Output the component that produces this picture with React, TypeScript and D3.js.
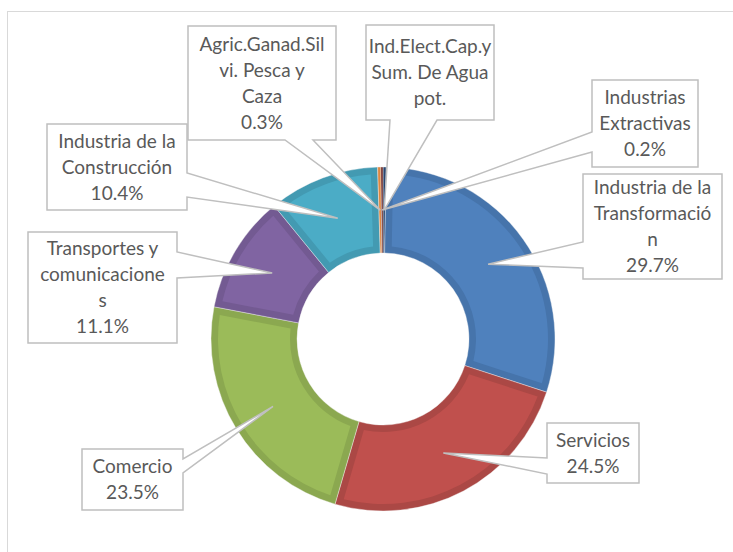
import React from "react";
import * as d3 from "d3";

// slices in clockwise order starting at 12 o'clock
const categories = [
  "Ind.Elect.Cap.y Sum. De Agua pot.",
  "Industria de la Transformación",
  "Servicios",
  "Comercio",
  "Transportes y comunicaciones",
  "Industria de la Construcción",
  "Agric.Ganad.Silvi. Pesca y Caza",
  "Industrias Extractivas",
];
const values = [0.3, 29.7, 24.5, 23.5, 11.1, 10.4, 0.3, 0.2];
// label text as it wraps in the callouts
const labelLines = [
  ["Ind.Elect.Cap.y", "Sum. De Agua", "pot."],
  ["Industria de la", "Transformació", "n"],
  ["Servicios"],
  ["Comercio"],
  ["Transportes y", "comunicacione", "s"],
  ["Industria de la", "Construcción"],
  ["Agric.Ganad.Sil", "vi. Pesca y", "Caza"],
  ["Industrias", "Extractivas"],
];
const showPct = [false, true, true, true, true, true, true, true];

const fills = ["#2c4d75", "#4f81bd", "#c0504d", "#9bbb59", "#8064a2", "#4bacc6", "#f79646", "#772c2a"];
const bands = ["#284670", "#4674ab", "#ab4845", "#8ba850", "#735a92", "#439ab2", "#de8740", "#6b2826"];

// callout boxes: [x0, y0, x1, y1], side the pointer leaves from, pointer base span
const boxes = [
  { b: [366, 25, 494, 120], side: "bottom", base: [390, 437] },
  { b: [583, 174, 722, 279], side: "left", base: [242, 268] },
  { b: [547, 423, 639, 483], side: "left", base: [458, 474] },
  { b: [82, 449, 183, 510], side: "right", base: [459, 473] },
  { b: [28, 232, 177, 343], side: "right", base: [252, 278] },
  { b: [47, 124, 187, 210], side: "right", base: [173, 197] },
  { b: [188, 26, 336, 140], side: "bottom", base: [285, 313] },
  { b: [592, 80, 698, 167], side: "left", base: [132, 152] },
];

const W = 733;
const H = 552;
const cx = 383;
const cy = 339;
const outerR = 172;
const innerR = 86;

function calloutPath(box, ax, ay) {
  const [x0, y0, x1, y1] = box.b;
  const [p, q] = box.base;
  let pts;
  if (box.side === "right") {
    pts = [[x0, y0], [x1, y0], [x1, p], [ax, ay], [x1, q], [x1, y1], [x0, y1]];
  } else if (box.side === "left") {
    pts = [[x0, y0], [x1, y0], [x1, y1], [x0, y1], [x0, q], [ax, ay], [x0, p]];
  } else {
    pts = [[x0, y0], [x1, y0], [x1, y1], [q, y1], [ax, ay], [p, y1], [x0, y1]];
  }
  return "M" + pts.map((d) => d.join(",")).join("L") + "Z";
}

const App = () => {
  const total = d3.sum(values);
  const pie = d3.pie<number>().sort(null).value((d) => d);
  const arcs = pie(values);

  const outerArc = d3.arc<d3.PieArcDatum<number>>().innerRadius(innerR).outerRadius(outerR);
  const insetArc = d3
    .arc<d3.PieArcDatum<number>>()
    .innerRadius(innerR + 7)
    .outerRadius(outerR - 7)
    .padRadius(100)
    .padAngle(0.14);

  const lh = 26;

  return (
    <svg width={W} height={H} style={{ position: "absolute", left: 0, top: 0, background: "#fff" }}
      fontFamily="Lato, 'Open Sans', sans-serif">
      <rect x={7.5} y={11.5} width={W} height={H} fill="#fff" stroke="#d9d9d9" strokeWidth={1} />
      <g transform={`translate(${cx},${cy})`}>
        {arcs.map((a, i) => (
          <g key={categories[i]}>
            <path d={outerArc(a)} fill={bands[i]} stroke="#f4f4f4" strokeWidth={0.4} />
            {a.endAngle - a.startAngle > 0.2 && <path d={insetArc(a)} fill={fills[i]} />}
          </g>
        ))}
      </g>
      {arcs.map((a, i) => {
        const [mx, my] = outerArc.centroid(a);
        const box = boxes[i];
        const lines = showPct[i]
          ? [...labelLines[i], ((values[i] / total) * 100).toFixed(1) + "%"]
          : labelLines[i];
        const [x0, y0, x1, y1] = box.b;
        const tx = (x0 + x1) / 2;
        const first = (y0 + y1) / 2 - ((lines.length - 1) * lh) / 2 + 6.5;
        return (
          <g key={"c" + i}>
            <path d={calloutPath(box, cx + mx, cy + my)} fill="#fff" stroke="#bfbfbf" strokeWidth={1.5} />
            <text textAnchor="middle" fontSize={19} fill="#595959">
              {lines.map((t, j) => (
                <tspan key={j} x={tx} y={first + j * lh}>{t}</tspan>
              ))}
            </text>
          </g>
        );
      })}
    </svg>
  );
};

export default App;
